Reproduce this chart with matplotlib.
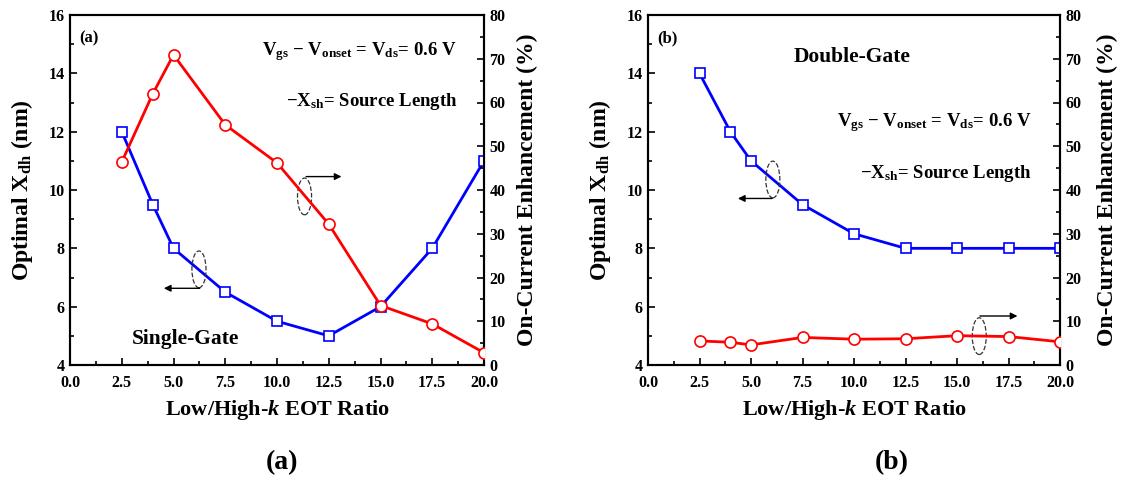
import matplotlib.pyplot as plt
from matplotlib.patches import Ellipse
from matplotlib.ticker import MultipleLocator

# EOT ratio shared by all series
ratio = [2.5, 4, 5, 7.5, 10, 12.5, 15, 17.5, 20]

# (a) single-gate
sg_xdh = [12, 9.5, 8, 6.5, 5.5, 5, 6, 8, 11]
sg_enh = [46.4, 62.0, 70.9, 54.9, 46.2, 32.2, 13.6, 9.4, 2.8]

# (b) double-gate
dg_xdh = [14, 12, 11, 9.5, 8.5, 8, 8, 8, 8]
dg_enh = [5.5, 5.2, 4.6, 6.3, 5.9, 6.0, 6.7, 6.5, 5.3]

plt.rcParams['font.family'] = 'Liberation Serif'
plt.rcParams['font.weight'] = 'bold'
plt.rcParams['mathtext.fontset'] = 'custom'
plt.rcParams['mathtext.rm'] = 'Liberation Serif:bold'
plt.rcParams['mathtext.it'] = 'Liberation Serif:italic:bold'
plt.rcParams['mathtext.bf'] = 'Liberation Serif:bold'

fig = plt.figure(figsize=(11.23, 4.8), dpi=100)


def style_axis(ax, right=False):
    for s in ax.spines.values():
        s.set_linewidth(1.5)
    ax.tick_params(which='both', direction='in', width=1.2, labelsize=11.5)
    ax.tick_params(axis='x', pad=7)
    ax.tick_params(axis='y', pad=4)
    ax.tick_params(which='major', length=5)
    ax.tick_params(which='minor', length=3)
    if right:
        ax.tick_params(which='both', left=False, right=True)
    for lab in ax.get_xticklabels() + ax.get_yticklabels():
        lab.set_fontweight('bold')


def panel(rect, xdh, enh, lx, rx):
    ax = fig.add_axes(rect)
    ax2 = ax.twinx()
    ax.plot(ratio, xdh, color='#0000ff', lw=2, marker='s', ms=7,
            mfc='white', mec='#0000ff', mew=1.2, zorder=3)
    ax2.plot(ratio, enh, color='#ff0000', lw=2, marker='o', ms=8,
             mfc='white', mec='#ff0000', mew=1.2, zorder=3)
    ax.set_xlim(0, 20)
    ax.set_ylim(4, 16)
    ax2.set_ylim(0, 80)
    ax.xaxis.set_major_locator(MultipleLocator(2.5))
    ax.xaxis.set_minor_locator(MultipleLocator(1.25))
    ax.yaxis.set_major_locator(MultipleLocator(2))
    ax.yaxis.set_minor_locator(MultipleLocator(1))
    ax2.yaxis.set_major_locator(MultipleLocator(10))
    ax2.yaxis.set_minor_locator(MultipleLocator(5))
    ax.xaxis.set_major_formatter(plt.FormatStrFormatter('%.1f'))
    ax.set_xlabel(r'Low/High-$\mathit{k}$ EOT Ratio', fontsize=16,
                  fontweight='bold', va='center')
    ax.xaxis.set_label_coords(0.5, -0.129)
    ax.set_ylabel(r'Optimal X$_{\mathrm{dh}}$ (nm)', fontsize=17,
                  fontweight='bold', va='center')
    ax.yaxis.set_label_coords(lx, 0.5)
    ax2.set_ylabel('On-Current Enhancement (%)', fontsize=17,
                   fontweight='bold', va='center')
    ax2.yaxis.set_label_coords(rx, 0.5)
    style_axis(ax)
    style_axis(ax2, right=True)
    return ax, ax2


def bracket(ax, cx, cy, x0, x1, ya):
    ax.add_patch(Ellipse((cx, cy), 0.68, 1.26, fill=False, ls='--',
                         lw=0.9, ec='#333333', zorder=4))
    ax.annotate('', xy=(x1, ya), xytext=(x0, ya),
                arrowprops=dict(arrowstyle='-|>', color='black', lw=1,
                                mutation_scale=10), zorder=4)


vtxt = (r'V$_{\mathrm{gs}}$ $-$ V$_{\mathrm{onset}}$ = '
        r'V$_{\mathrm{ds}}$= 0.6 V')
xtxt = r'$-$X$_{\mathrm{sh}}$= Source Length'

# panel (a)
ax, ax2 = panel([70 / 1123, 115 / 480, 414 / 1123, 350 / 480],
                sg_xdh, sg_enh, -0.116, 1.104)
ax.text(0.43, 15.2, '(a)', fontsize=12, fontweight='bold', va='center')
ax.text(18.7, 14.73, vtxt, fontsize=13.5, ha='right', va='center')
ax.text(18.7, 13.03, xtxt, fontsize=13.5, ha='right', va='center')
ax.text(5.56, 4.89, 'Single-Gate', fontsize=15.5, ha='center', va='center')
bracket(ax, 6.23, 7.28, 6.4, 4.4, 6.63)
bracket(ax, 11.33, 9.78, 11.27, 13.25, 10.46)

# panel (b)
bx, bx2 = panel([648 / 1123, 115 / 480, 412 / 1123, 350 / 480],
                dg_xdh, dg_enh, -0.1165, 1.114)
bx.text(0.43, 15.2, '(b)', fontsize=12, fontweight='bold', va='center')
bx.text(9.9, 14.56, 'Double-Gate', fontsize=15.5, ha='center', va='center')
bx.text(18.64, 12.31, vtxt, fontsize=13.5, ha='right', va='center')
bx.text(18.64, 10.56, xtxt, fontsize=13.5, ha='right', va='center')
bracket(bx, 6.06, 10.36, 6.16, 4.23, 9.71)
bracket(bx, 16.08, 4.99, 15.98, 18.07, 5.68)

fig.text(282 / 1123, 17 / 480, '(a)', fontsize=20, fontweight='bold',
         ha='center', va='center')
fig.text(892 / 1123, 17 / 480, '(b)', fontsize=20, fontweight='bold',
         ha='center', va='center')

fig.savefig('out.png', dpi=100)
